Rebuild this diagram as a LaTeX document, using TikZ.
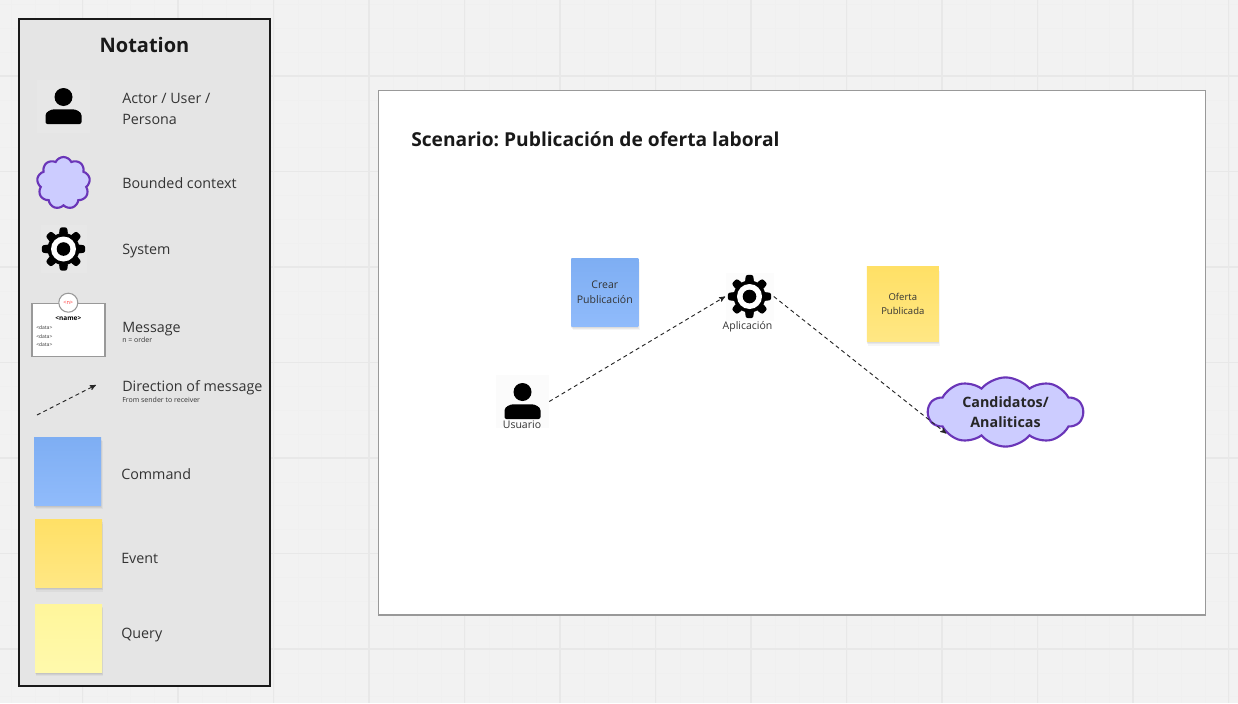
\documentclass[tikz,border=0pt]{standalone}
\usepackage{fontspec}
\setmainfont{Open Sans}
\usepackage{tikz}
\usetikzlibrary{arrows,shadows,shapes.symbols}
\definecolor{inktext}{HTML}{333333}
\definecolor{cloudline}{HTML}{6A35B8}
\definecolor{cloudfill}{HTML}{CCCCFF}
\definecolor{cmdtop}{HTML}{7EAEF3}
\definecolor{cmdbot}{HTML}{90BBFB}
\definecolor{evttop}{HTML}{FFE066}
\definecolor{evtbot}{HTML}{FFE784}
\definecolor{qrytop}{HTML}{FFF69B}
\definecolor{qrybot}{HTML}{FFF9AC}
\newcommand{\px}{0.75pt}
\newcommand{\pxfont}[1]{\fontsize{\dimexpr#1\dimexpr0.75pt\relax\relax}{\dimexpr#1\dimexpr1.07pt\relax\relax}\selectfont\frenchspacing}

\begin{document}
\begin{tikzpicture}[x=0.75pt,y=-0.75pt,>=stealth',
  lbl/.style={anchor=west,inner sep=0pt,text=inktext,font=\pxfont{14.3}},
  tiny lbl/.style={anchor=west,inner sep=0pt,text=inktext,font=\pxfont{7}},
  icon lbl/.style={inner sep=0pt,text=inktext,font=\pxfont{10.5}},
  iconbox/.style={fill=#1,minimum width=48*\px,minimum height=48*\px,inner sep=0pt},
  sticky/.style={minimum width=67*\px,minimum height=68*\px,inner sep=0pt,align=center,
    text=inktext,font=\pxfont{10.5},
    drop shadow={shadow xshift=0pt,shadow yshift=-1pt,opacity=.05,fill=black},
    drop shadow={shadow xshift=0.5pt,shadow yshift=-2pt,opacity=.05,fill=black},
    drop shadow={shadow xshift=1pt,shadow yshift=-3pt,opacity=.04,fill=black}},
  command/.style={sticky,top color=cmdtop,bottom color=cmdbot},
  event/.style={sticky,top color=evttop,bottom color=evtbot},
  query/.style={sticky,top color=qrytop,bottom color=qrybot},
  context/.style={cloud,draw=cloudline,fill=cloudfill,line width=1.6pt,inner sep=0pt,align=center},
  msg/.style={->,dash pattern=on 3pt off 2.4pt,line width=0.7pt,black!85},
  gear/.pic={
    \fill circle[radius=16];
    \foreach \a in {0,45,...,315}
      \fill[rotate=\a,rounded corners=1.6pt] (-4.6,-14) -- (-3.6,-21.7) -- (3.6,-21.7) -- (4.6,-14) -- cycle;
    \fill[white] circle[radius=12.5];
    \fill circle[radius=6.8];
  },
  person/.pic={
    \fill (0,-9.5) circle[radius=9];
    \fill[rounded corners=1.5pt] (-18,17.5) -- (-18,11) .. controls (-18,5) and (-12,2.8) .. (-7,2.8)
      -- (7,2.8) .. controls (12,2.8) and (18,5) .. (18,11) -- (18,17.5) -- cycle;
  }]

\useasboundingbox (0,0) rectangle (1238,703);
\fill[black!5] (0,0) rectangle (1238,703);

% grid
\foreach \i in {0,...,51}
  \draw[black!6,line width=0.6pt] ({11.5+23.875*\i},0) -- ({11.5+23.875*\i},703);
\foreach \i in {0,...,29}
  \draw[black!6,line width=0.6pt] (0,{4.4+23.875*\i}) -- (1238,{4.4+23.875*\i});
\foreach \i in {0,...,12}
  \draw[black!9,line width=1pt] ({82.5+95.5*\i},0) -- ({82.5+95.5*\i},703);
\foreach \i in {0,...,6}
  \draw[black!9,line width=1pt] (0,{76+95.5*\i}) -- (1238,{76+95.5*\i});

% notation panel
\node[draw=black!90,fill=black!10,line width=2pt,inner sep=0pt,
  minimum width=251*\px,minimum height=667*\px] (panel) at (144.5,352.5) {};
\node[inner sep=0pt,text=black!90,font=\pxfont{20}\bfseries] (notation) at (144.5,45) {Notation};

\node[iconbox=black!9.5,minimum width=53*\px,minimum height=53*\px] (actor) at (63.5,106.5) {};
\pic at (actor) {person};
\node[lbl] (actorlbl) at (122,98) {Actor / User /};
\node[lbl] (actorlbl2) at (122,119) {Persona};

\node[context,cloud puffs=9,cloud puff arc=130,aspect=1,minimum width=53*\px,minimum height=52*\px] (bounded) at (63.5,183) {};
\node[lbl] (boundedlbl) at (122,183) {Bounded context};

\node[iconbox=black!9.5,minimum width=46*\px] (system) at (63.5,249) {};
\pic at (system) {gear};
\node[lbl] (systemlbl) at (122,251) {System};

% message card
\node[draw=black!40,fill=white,line width=1pt,inner sep=0pt,
  minimum width=73*\px,minimum height=53*\px] (card) at (68.5,330) {};
\node[circle,draw=black!40,fill=white,line width=0.8pt,minimum size=19*\px,inner sep=0pt,
  text=red!80,font=\pxfont{5.5}] (order) at (68.3,302.7) {<n>};
\node[inner sep=0pt,font=\pxfont{6.5}\bfseries] (cardname) at (68.3,318.3) {<name>};
\node[tiny lbl,font=\pxfont{5}] (data1) at (36,328) {<data>};
\node[tiny lbl,font=\pxfont{5}] (data2) at (36,336.3) {<data>};
\node[tiny lbl,font=\pxfont{5}] (data3) at (36,344.3) {<data>};
\node[lbl] (messagelbl) at (122,329) {Message};
\node[tiny lbl] (orderlbl) at (122,339.5) {n = order};

\coordinate (sender) at (37,415);
\coordinate (receiver) at (96,385);
\path (sender) edge[msg] (receiver);
\node[lbl] (directionlbl) at (122,388) {Direction of message};
\node[tiny lbl] (directionlbl2) at (122,399.5) {From sender to receiver};

\node[command] (command) at (67.7,471.3) {};
\node[lbl] (commandlbl) at (121,474.5) {Command};
\node[event] (event) at (68.5,553.5) {};
\node[lbl] (eventlbl) at (121,558.5) {Event};
\node[query] (query) at (68.5,638.2) {};
\node[lbl] (querylbl) at (121,635) {Query};

% scenario frame
\node[draw=black!40,fill=white,line width=1.1pt,inner sep=0pt,
  minimum width=827*\px,minimum height=524.5*\px] (frame) at (791.8,352.8) {};
\node[anchor=west,inner sep=0pt,text=black!90,font=\pxfont{19.2}\bfseries] (scenario) at (411,139)
  {Scenario: Publicación de oferta laboral};

\node[iconbox=black!1.5,minimum width=53*\px,minimum height=53*\px] (usuario) at (522.5,401.5) {};
\pic at (usuario) {person};
\node[icon lbl] (usuariolbl) at (522,425) {Usuario};

\node[iconbox=black!1] (aplicacion) at (749.5,296.5) {};
\pic at (aplicacion) {gear};
\node[icon lbl] (aplicacionlbl) at (747.5,327) {Aplicación};

\node[command] (crear) at (604.8,292.3) {Crear\\Publicación};
\node[event,minimum width=72*\px,minimum height=75*\px,font=\pxfont{9.5}] (oferta) at (902.8,304) {Oferta\\Publicada};

\node[context,cloud puffs=10,cloud puff arc=100,aspect=2.25,minimum width=155*\px,minimum height=69*\px,
  text=black!85,font=\pxfont{14.3}\bfseries] (candidatos) at (1005.5,412) {Candidatos/\\Analiticas};

\path
  (usuario.east) edge[msg] (aplicacion.west)
  (aplicacion.east) edge[msg] (candidatos.200);

\end{tikzpicture}
\end{document}
